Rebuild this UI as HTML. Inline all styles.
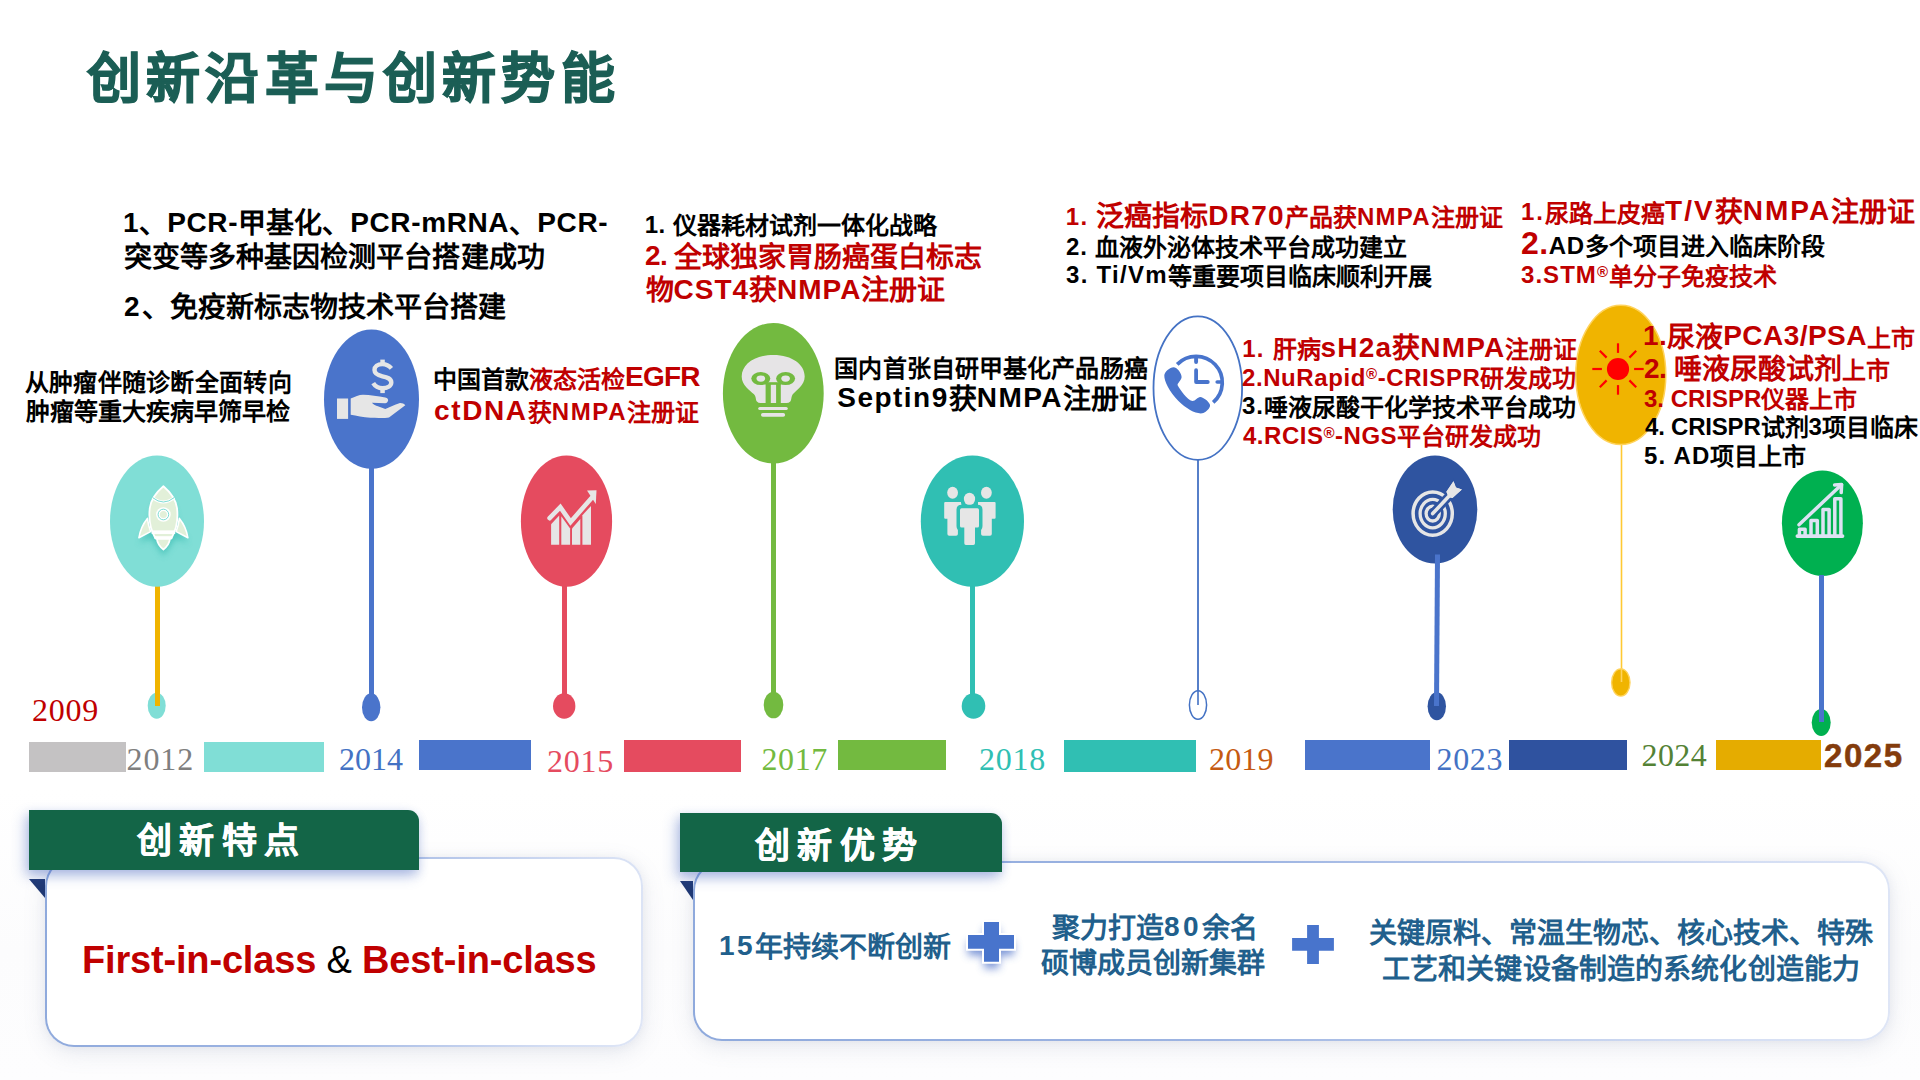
<!DOCTYPE html>
<html lang="zh-CN">
<head>
<meta charset="utf-8">
<title>创新沿革与创新势能</title>
<style>
html,body{margin:0;padding:0;}
body{width:1920px;height:1080px;position:relative;overflow:hidden;background:#fff;font-family:"Liberation Sans",sans-serif;}
#bg{position:absolute;left:0;top:0;width:1920px;height:1080px;background:linear-gradient(180deg,#ffffff 0%,#ffffff 73%,#fcfcfd 88%,#fdfdfe 100%);}
svg#shapes{position:absolute;left:0;top:0;width:1920px;height:1080px;}
.t{position:absolute;white-space:nowrap;font-family:"Liberation Sans",sans-serif;font-weight:bold;line-height:1;color:#000;margin:0;}
.r{color:#c00000;}
.yr{position:absolute;white-space:nowrap;font-family:"Liberation Serif",serif;font-weight:normal;line-height:1;}
.s24{font-size:24px;}
.s28{font-size:28px;}

.card{position:absolute;box-sizing:border-box;background:#fff;border-radius:29px;border:2px solid transparent;
 background:linear-gradient(#fff,#fff) padding-box,linear-gradient(100deg,#8ea9dc 0%,#9db4e2 45%,#d3ddf3 85%,#dfe6f6 100%) border-box;
 box-shadow:0 6px 22px rgba(120,130,160,0.16),0 0 10px rgba(120,130,160,0.08);}
.hdr{position:absolute;box-sizing:border-box;background:#136547;border-top-right-radius:11px;
 box-shadow:-4px 6px 14px rgba(68,100,190,0.32),0 4px 10px rgba(68,100,190,0.22);color:#fff;font-weight:bold;text-align:center;}
.hdr span{position:absolute;font-size:35px;line-height:1;letter-spacing:7.6px;white-space:nowrap;text-align:left;-webkit-text-stroke:0.5px #fff;}
.tri{position:absolute;width:0;height:0;border-style:solid;}
.blue{color:#215f8c;}

</style>
</head>
<body>
<div id="bg"></div>
<svg id="shapes" viewBox="0 0 1920 1080">
<defs>
<filter id="soft" x="-50%" y="-50%" width="200%" height="200%"><feGaussianBlur stdDeviation="3"/></filter>
</defs>
<!-- stems -->
<rect x="155" y="580" width="5" height="126" fill="#f0b400"/>
<rect x="369" y="462" width="5" height="240" fill="#4a74cb"/>
<rect x="562" y="580" width="5" height="120" fill="#e54b5f"/>
<rect x="771" y="458" width="5" height="240" fill="#73ba40"/>
<rect x="970" y="580" width="5" height="120" fill="#30bfb3"/>
<rect x="1197.1" y="455" width="1.8" height="250" fill="#4472c4"/>
<rect x="1620.7" y="440" width="1.6" height="240" fill="#ffc933"/>
<!-- timeline dots -->
<ellipse cx="156.7" cy="705.7" rx="9" ry="13" fill="#80ded6"/>
<rect x="155" y="690" width="5" height="16" fill="#f0b400"/>
<ellipse cx="371.2" cy="707.3" rx="9.2" ry="14" fill="#4a74cb"/>
<ellipse cx="564.2" cy="706" rx="11.2" ry="12.8" fill="#e54b5f"/>
<ellipse cx="773.5" cy="705" rx="9.8" ry="13.3" fill="#73ba40"/>
<ellipse cx="973.5" cy="706" rx="11.8" ry="12.7" fill="#30bfb3"/>
<ellipse cx="1198" cy="705" rx="8.6" ry="14.3" fill="#fff" stroke="#4472c4" stroke-width="1.5"/>
<rect x="1197.2" y="690" width="1.6" height="15" fill="#4472c4"/>
<ellipse cx="1436.8" cy="706.3" rx="9.2" ry="14" fill="#2f54a0"/>
<ellipse cx="1620.8" cy="682.5" rx="9.2" ry="13.6" fill="#f0b400" stroke="#ffd35c" stroke-width="1.4"/>
<rect x="1620.7" y="668" width="1.6" height="14" fill="#ffd35c"/>
<ellipse cx="1821.2" cy="722.5" rx="9.5" ry="13.5" fill="#00b050"/>
<!-- balloons -->
<ellipse cx="157" cy="521.2" rx="47" ry="65.6" fill="#80ded6"/>
<ellipse cx="371.5" cy="399.2" rx="47.5" ry="69.6" fill="#4a74cb"/>
<ellipse cx="566.5" cy="521.2" rx="45.6" ry="65.6" fill="#e54b5f"/>
<ellipse cx="773.3" cy="393.2" rx="50.4" ry="70.3" fill="#73ba40"/>
<ellipse cx="972.4" cy="521.2" rx="51.6" ry="65.6" fill="#30bfb3"/>
<ellipse cx="1197.8" cy="388.1" rx="44.3" ry="71.8" fill="#fff" stroke="#4472c4" stroke-width="1.8"/>
<ellipse cx="1435" cy="509.5" rx="42.3" ry="54" fill="#2f54a0"/>
<ellipse cx="1620.8" cy="374.9" rx="45" ry="69.6" fill="#f0b400" stroke="#ffd35c" stroke-width="1.5"/>
<ellipse cx="1822.4" cy="523.3" rx="40.5" ry="52.7" fill="#00b050"/>
<!-- stems on top -->
<polygon points="1435,554.6 1440,554.6 1439,706 1434,706" fill="#4a74cb"/>
<rect x="1819" y="575" width="5" height="147" fill="#4a74cb"/>
<!-- timeline bars -->
<rect x="29" y="742" width="97" height="30" fill="#c4c2c3"/>
<rect x="204" y="742" width="120" height="30" fill="#80ded6"/>
<rect x="419" y="740" width="112" height="30" fill="#4a74cb"/>
<rect x="624" y="740" width="117" height="32" fill="#e54b5f"/>
<rect x="838" y="740" width="108" height="30" fill="#73ba40"/>
<rect x="1064" y="740" width="132" height="32" fill="#30bfb3"/>
<rect x="1305" y="740" width="125" height="30" fill="#4a74cb"/>
<rect x="1509" y="740" width="118" height="30" fill="#2f529f"/>
<rect x="1716" y="740" width="105" height="30" fill="#e5ac00"/>

<!-- rocket -->
<g>
<g filter="url(#soft)" opacity="0.75" transform="translate(0,5)"><path d="M163.4,489 C154,498 150,510 150,520 L139,538 L151,533 L156,540 L163.4,551 L171,540 L176,533 L188,538 L177,520 C177,510 173,498 163.4,489 Z" fill="#3fbfb5"/></g>
<path d="M147.4,518.4 Q140.5,527 138.9,537.8 L150.6,531.6 Q148.2,525 147.4,518.4 Z" fill="#e2f0d9" stroke="#fff" stroke-width="1.6" stroke-linejoin="round"/>
<path d="M179.4,518.4 Q186.3,527 187.9,537.8 L176.2,531.6 Q178.6,525 179.4,518.4 Z" fill="#e2f0d9" stroke="#fff" stroke-width="1.6" stroke-linejoin="round"/>
<path d="M156.8,538.5 Q157.5,545 163.4,549.5 Q169.3,545 170,538.5 Z" fill="#e2f0d9" stroke="#fff" stroke-width="1.8" stroke-linejoin="round"/>
<path d="M163.4,486.2 C156,492.5 151,499 149.8,508 C148.6,518 150.5,530 155.5,538.5 L171.3,538.5 C176.3,530 178.2,518 177,508 C175.8,499 170.8,492.5 163.4,486.2 Z" fill="#e2f0d9" stroke="#fff" stroke-width="1.8" stroke-linejoin="round"/>
<path d="M152.6,497.6 Q163.4,506.4 174.2,497.6" fill="none" stroke="#fff" stroke-width="3"/>
<path d="M152.6,497.6 Q163.4,506.4 174.2,497.6" fill="none" stroke="#6fd8cf" stroke-width="0.9"/>
<circle cx="163.4" cy="514.5" r="7.3" fill="#fff"/>
<circle cx="163.4" cy="514.5" r="5.3" fill="none" stroke="#6fd8cf" stroke-width="0.9"/>
<circle cx="163.4" cy="514.5" r="3.5" fill="#e2f0d9"/>
<rect x="151.6" y="530.4" width="23.6" height="3.6" fill="#fff"/>
<rect x="154.6" y="536.2" width="17.6" height="2.6" fill="#fff"/>
</g>
<!-- hand + dollar -->
<g fill="#e6e6e6">
<rect x="337" y="398.5" width="11.1" height="20.4"/>
<path d="M350.7,398.5 C355,396.8 359,394.8 363,394.8 C370,395 378,396.4 385.3,397.4 C387.6,397.9 388.4,399.4 388.1,400.6 C387.8,402.2 386.6,403.2 385.3,403.3 L371.9,402.8 C373.5,404.6 375.8,405.6 377.9,406.3 L385.3,408.9 C390,407 394.5,404.6 399.3,403.2 C401.5,402.8 404,403.8 405.3,405.2 L389,417.4 C386.5,418 378,418 370.4,417.8 C363,417.2 356.5,415.8 350.7,414.8 Z"/>
<rect x="380.3" y="359.6" width="4.5" height="4.2"/>
<rect x="380.3" y="389" width="4.5" height="4.1"/>
</g>
<path d="M391.4,368.4 C389,365.6 386,364.1 382.4,364.1 C377.5,364.1 374.5,366.5 374.5,370 C374.5,374 378,375.3 382.4,376.3 C387,377.3 391.3,378.5 391.3,382.6 C391.3,386 387.5,388.2 382.4,388.2 C378.5,388.2 375.3,386.6 373.2,383.2" fill="none" stroke="#e6e6e6" stroke-width="4.4"/>
<!-- chart (red) -->
<g fill="#e6e6e6">
<polygon points="551.1,524.3 559.2,515.5 559.2,544.7 551.1,544.7"/>
<polygon points="561.3,516.2 570.1,528.6 570.1,544.7 561.3,544.7"/>
<polygon points="572,528.6 580.3,519 580.3,544.7 572,544.7"/>
<polygon points="582.4,515.2 591,505.9 591,544.7 582.4,544.7"/>
<polygon points="587,490.4 596.5,490.2 595.8,503.9"/>
</g>
<polyline points="549.6,518.2 560.3,507.1 570.6,521.9 591.8,497.7" fill="none" stroke="#e6e6e6" stroke-width="4.6" stroke-linecap="round" stroke-linejoin="miter"/>
<!-- bulb -->
<path d="M773.4,354.9 C792.3,354.9 804.7,364.5 804.7,376.4 C804.7,385.3 796,390.4 793,394.1 C790.8,397.1 791.8,399.8 790.3,401.4 Q788.8,402.9 786.3,402.9 L760.7,402.9 Q758.2,402.9 756.9,401.4 C755.2,399.8 756.7,397.1 753.7,394.1 C750,390.4 741.7,385.3 741.7,376.4 C741.7,364.5 754.5,354.9 773.4,354.9 Z" fill="#e6e4e6"/>
<g>
<ellipse cx="760.8" cy="378.6" rx="9.5" ry="6.5" fill="#73ba40"/><ellipse cx="760.8" cy="378.6" rx="4.3" ry="3.1" fill="#e6e4e6"/>
<ellipse cx="785.6" cy="378.6" rx="9.5" ry="6.5" fill="#73ba40"/><ellipse cx="785.6" cy="378.6" rx="4.3" ry="3.1" fill="#e6e4e6"/>
</g>
<rect x="765.6" y="382.2" width="15.2" height="2.6" fill="#73ba40"/>
<rect x="765.6" y="383" width="5.2" height="21" fill="#73ba40"/>
<rect x="776.1" y="383" width="4.7" height="21" fill="#73ba40"/>
<rect x="758.2" y="406.9" width="29.6" height="3.2" rx="1.6" fill="#e6e4e6"/>
<rect x="761" y="413" width="24.1" height="3.7" rx="1.8" fill="#e6e4e6"/>
<!-- people -->
<g fill="#e6e6e6">
<ellipse cx="952.6" cy="492.8" rx="5.4" ry="6"/>
<ellipse cx="986.4" cy="492.8" rx="5.4" ry="6"/>
<path d="M945.2,501.9 H961.4 V518.8 H957.9 V534 Q957.9,535.8 956.1,535.8 H949.2 Q947.4,535.8 947.4,534 V518.8 H945.2 Q944.2,518.8 944.2,517.8 V502.9 Q944.2,501.9 945.2,501.9 Z"/>
<path d="M978,501.9 H994.6 Q995.6,501.9 995.6,502.9 V517.8 Q995.6,518.8 994.6,518.8 H991.8 V534 Q991.8,535.8 990,535.8 H982.9 Q981.1,535.8 981.1,534 V518.8 H978 Z"/>
</g>
<g fill="#e6e6e6" stroke="#30bfb3" stroke-width="7" paint-order="stroke" stroke-linejoin="round">
<ellipse cx="969.5" cy="499" rx="5.6" ry="6.2"/>
<path d="M961.6,508.3 H977.4 Q979,508.3 979,509.9 V526 Q979,527.6 977.4,527.6 H975 V543.3 Q975,544.9 973.4,544.9 H965.9 Q964.3,544.9 964.3,543.3 V527.6 H961.6 Q960,527.6 960,526 V509.9 Q960,508.3 961.6,508.3 Z"/>
</g>
<!-- phone + clock -->
<g fill="none" stroke="#4874cc" stroke-linecap="round" stroke-linejoin="round">
<path d="M1177.2,364.4 A26.2,26.2 0 1 1 1213.2,402.4" stroke-width="3.7" stroke-linecap="butt"/>
<line x1="1196.1" y1="358.4" x2="1196.1" y2="362" stroke-width="3.9"/>
<line x1="1217.2" y1="382" x2="1221.6" y2="382" stroke-width="3.6"/>
<polyline points="1196.1,370.2 1196.1,382 1207.8,382" stroke-width="3.8"/>
</g>
<path d="M1173.4,367.3 C1177.5,367.5 1181.6,373.4 1181.6,377.1 C1181.6,380.1 1178.2,382.3 1177.5,384.9 C1180.4,390.4 1187.1,399.3 1192.3,401 C1195.3,401.2 1197.5,397.1 1200.2,397 C1203.4,397.1 1210.1,402.3 1210.1,405.6 C1210.1,408.2 1205.6,412.7 1203.4,413 C1197.5,414.9 1187.1,409.7 1178.2,400.8 C1169.3,391.9 1164.1,380.8 1164.3,375.6 C1164.3,371.9 1170.1,367.3 1173.4,367.3 Z" fill="#4874cc"/>
<!-- target -->
<g fill="none" stroke="#e6e6e6">
<ellipse cx="1432.7" cy="513.6" rx="19.6" ry="21.7" stroke-width="3.5"/>
<ellipse cx="1432.7" cy="513.6" rx="12.6" ry="14.2" stroke-width="3.3"/>
<ellipse cx="1432.7" cy="513.6" rx="6.6" ry="7.4" stroke-width="3.3"/>
</g>
<line x1="1432.7" y1="513.6" x2="1452" y2="493" stroke="#2f54a0" stroke-width="9" stroke-linecap="round"/>
<polygon points="1453.5,481.3 1455.9,487.6 1461.9,489.4 1452.4,498.1 1448.6,497.1 1446.4,491.8" fill="#e6e6e6" stroke="#2f54a0" stroke-width="2.4" paint-order="stroke"/>
<line x1="1432.7" y1="513.6" x2="1449.6" y2="495.6" stroke="#e6e6e6" stroke-width="3.6" stroke-linecap="round"/>
<polygon points="1453.5,481.3 1455.9,487.6 1461.9,489.4 1452.4,498.1 1448.6,497.1 1446.4,491.8" fill="#e6e6e6"/>
<!-- sun -->
<g stroke="#ff0000" stroke-width="2.2">
<circle cx="1618" cy="369" r="11.1" fill="#ff0000" stroke="none"/>
<line x1="1618" y1="343.3" x2="1618" y2="352.9"/><line x1="1618" y1="385.1" x2="1618" y2="394.7"/>
<line x1="1592.3" y1="369" x2="1601.9" y2="369"/><line x1="1634.1" y1="369" x2="1643.7" y2="369"/>
<line x1="1599.8" y1="350.8" x2="1606.6" y2="357.6"/><line x1="1629.4" y1="380.4" x2="1636.2" y2="387.2"/>
<line x1="1636.2" y1="350.8" x2="1629.4" y2="357.6"/><line x1="1606.6" y1="380.4" x2="1599.8" y2="387.2"/>
</g>
<!-- bars+arrow (green) -->
<g fill="none" stroke="#dde2f3" stroke-width="3.5" stroke-linecap="round" stroke-linejoin="round">
<line x1="1797.4" y1="536.1" x2="1842.5" y2="536.1" stroke-width="3.8"/>
<path d="M1799.4,535 V529.3 H1805.1 V535"/>
<path d="M1811,535 V520.5 H1817.3 V535"/>
<path d="M1823,535 V509.6 H1829.1 V535"/>
<path d="M1834.8,535 V498.7 H1840.9 V535"/>
<line x1="1799" y1="524.7" x2="1841.4" y2="484.8"/>
<polyline points="1834.6,484.9 1841.6,484.6 1841.2,492.6"/>
</g>
</svg>

<div class="card" style="left:45px;top:857px;width:598px;height:190px;"></div>
<div class="tri" style="left:29px;top:879px;border-width:0 16.5px 19.5px 0;border-color:transparent #1f3873 transparent transparent;"></div>
<div class="hdr" style="left:29px;top:810px;width:390px;height:60px;"><span style="left:107.5px;top:13px;">创新特点</span></div>
<div class="card" style="left:693px;top:861px;width:1197px;height:180px;"></div>
<div class="tri" style="left:680px;top:881px;border-width:0 13px 19.5px 0;border-color:transparent #1f3873 transparent transparent;"></div>
<div class="hdr" style="left:680px;top:813px;width:322px;height:59px;"><span style="left:74.5px;top:14.5px;">创新优势</span></div>
<svg id="shapes2" viewBox="0 0 1920 1080" style="position:absolute;left:0;top:0;width:1920px;height:1080px;">
<defs><filter id="soft2" x="-50%" y="-50%" width="200%" height="200%"><feGaussianBlur stdDeviation="4.2"/></filter></defs>
<!-- plus signs -->
<g>
<path d="M984,922 H999 V935 H1014 V948.8 H999 V961.8 H984 V948.8 H968 V935 H984 Z" fill="#3f66c4" opacity="0.7" filter="url(#soft2)" transform="translate(0,6.5)"/>
<path d="M984,922 H999 V935 H1014 V948.8 H999 V961.8 H984 V948.8 H968 V935 H984 Z" fill="#4874cc" stroke="#fff" stroke-width="4" paint-order="stroke"/>
<path d="M1307.1,925 H1318.9 V938.1 H1333.9 V950.8 H1318.9 V963.9 H1307.1 V950.8 H1292.1 V938.1 H1307.1 Z" fill="#4874cc"/>
</g>
</svg>
<!-- TEXT-BEGIN -->
<div class="t" id="ttl" style="left:87.0px;top:52.2px;font-size:54px;letter-spacing:5.20px;-webkit-text-stroke:1.2px #1b5e55;"><span style="font-size:54px;color:#1b5e55;">创新沿革与创新势能</span></div>
<div class="t" id="a1" style="left:123.0px;top:210.0px;font-size:28px;"><span style="font-size:28px;color:#000;"><span style="letter-spacing:0.63px;position:relative;top:-0.05em;">1</span>、<span style="letter-spacing:0.63px;position:relative;top:-0.05em;">PCR-</span>甲基化、<span style="letter-spacing:0.63px;position:relative;top:-0.05em;">PCR-mRNA</span>、<span style="letter-spacing:0.63px;position:relative;top:-0.05em;">PCR-</span></span></div>
<div class="t" id="a2" style="left:123.7px;top:244.0px;font-size:28px;letter-spacing:0.07px;"><span style="font-size:28px;color:#000;">突变等多种基因检测平台搭建成功</span></div>
<div class="t" id="a3" style="left:124.0px;top:294.2px;font-size:28px;"><span style="font-size:28px;color:#000;"><span style="letter-spacing:2.00px;position:relative;top:-0.05em;">2</span>、免疫新标志物技术平台搭建</span></div>
<div class="t" id="b1" style="left:24.8px;top:371.1px;font-size:24px;letter-spacing:0.28px;"><span style="font-size:24px;color:#000;">从肿瘤伴随诊断全面转向</span></div>
<div class="t" id="b2" style="left:25.8px;top:399.6px;font-size:24px;letter-spacing:-0.02px;"><span style="font-size:24px;color:#000;">肿瘤等重大疾病早筛早检</span></div>
<div class="t" id="c1" style="left:433.0px;top:364.5px;font-size:28px;"><span style="font-size:24px;color:#000;">中国首款</span><span style="font-size:24px;color:#c00000;">液态活检</span><span style="font-size:28px;color:#c00000;"><span style="letter-spacing:-0.79px;position:relative;top:-0.05em;">EGFR</span></span></div>
<div class="t" id="c2" style="left:434.0px;top:398.3px;font-size:28px;"><span style="font-size:28px;color:#c00000;"><span style="letter-spacing:1.63px;position:relative;top:-0.05em;">ctDNA</span></span><span style="font-size:24px;color:#c00000;">获<span style="letter-spacing:1.63px;position:relative;top:-0.05em;">NMPA</span>注册证</span></div>
<div class="t" id="d1" style="left:644.7px;top:214.0px;font-size:24px;"><span style="font-size:24px;color:#000;"><span style="letter-spacing:0.57px;position:relative;top:-0.05em;">1. </span>仪器耗材试剂一体化战略</span></div>
<div class="t" id="d2" style="left:645.0px;top:243.5px;font-size:28px;"><span style="font-size:28px;color:#c00000;"><span style="letter-spacing:-0.67px;position:relative;top:-0.05em;">2. </span>全球独家胃肠癌蛋白标志</span></div>
<div class="t" id="d3" style="left:645.5px;top:277.0px;font-size:28px;"><span style="font-size:28px;color:#c00000;">物<span style="letter-spacing:1.00px;position:relative;top:-0.05em;">CST4</span>获<span style="letter-spacing:1.00px;position:relative;top:-0.05em;">NMPA</span>注册证</span></div>
<div class="t" id="e1" style="left:834.3px;top:356.8px;font-size:24px;letter-spacing:0.12px;"><span style="font-size:24px;color:#000;">国内首张自研甲基化产品肠癌</span></div>
<div class="t" id="e2" style="left:837.3px;top:385.5px;font-size:28px;"><span style="font-size:28px;color:#000;"><span style="letter-spacing:1.47px;position:relative;top:-0.05em;">Septin9</span>获<span style="letter-spacing:1.47px;position:relative;top:-0.05em;">NMPA</span>注册证</span></div>
<div class="t" id="f1" style="left:1065.8px;top:203.1px;font-size:28px;"><span style="font-size:24px;color:#c00000;"><span style="letter-spacing:1.26px;position:relative;top:-0.05em;">1. </span></span><span style="font-size:28px;color:#c00000;">泛癌指标<span style="letter-spacing:1.26px;position:relative;top:-0.05em;">DR70</span></span><span style="font-size:24px;color:#c00000;">产品获<span style="letter-spacing:1.26px;position:relative;top:-0.05em;">NMPA</span>注册证</span></div>
<div class="t" id="f2" style="left:1066.0px;top:236.3px;font-size:24px;"><span style="font-size:24px;color:#000;"><span style="letter-spacing:0.91px;position:relative;top:-0.05em;">2. </span>血液外泌体技术平台成功建立</span></div>
<div class="t" id="f3" style="left:1066.0px;top:264.5px;font-size:24px;"><span style="font-size:24px;color:#000;"><span style="letter-spacing:1.29px;position:relative;top:-0.05em;">3. Ti/Vm</span>等重要项目临床顺利开展</span></div>
<div class="t" id="g1" style="left:1521.0px;top:198.6px;font-size:28px;"><span style="font-size:24px;color:#c00000;"><span style="letter-spacing:2.02px;position:relative;top:-0.05em;">1.</span>尿路上皮癌</span><span style="font-size:28px;color:#c00000;"><span style="letter-spacing:2.02px;position:relative;top:-0.05em;">T/V</span>获<span style="letter-spacing:2.02px;position:relative;top:-0.05em;">NMPA</span>注册证</span></div>
<div class="t" id="g2" style="left:1521.0px;top:228.2px;font-size:32px;"><span style="font-size:32px;color:#c00000;"><span style="letter-spacing:0.55px;position:relative;top:-0.05em;">2.</span></span><span style="font-size:24px;color:#000;"><span style="letter-spacing:0.55px;position:relative;top:-0.05em;">AD</span>多个项目进入临床阶段</span></div>
<div class="t" id="g3" style="left:1521.0px;top:264.5px;font-size:24px;"><span style="font-size:24px;color:#c00000;"><span style="letter-spacing:1.04px;position:relative;top:-0.05em;">3.STM</span></span><span style="font-size:15px;color:#c00000;position:relative;top:-0.5em;"><span style="letter-spacing:1.04px;">®</span></span><span style="font-size:24px;color:#c00000;">单分子免疫技术</span></div>
<div class="t" id="h1" style="left:1242.3px;top:334.9px;font-size:28px;"><span style="font-size:24px;color:#c00000;"><span style="letter-spacing:1.19px;position:relative;top:-0.05em;">1. </span>肝病</span><span style="font-size:28px;color:#c00000;"><span style="letter-spacing:1.19px;position:relative;top:-0.05em;">sH2a</span>获<span style="letter-spacing:1.19px;position:relative;top:-0.05em;">NMPA</span></span><span style="font-size:24px;color:#c00000;">注册证</span></div>
<div class="t" id="h2" style="left:1242.0px;top:366.8px;font-size:24px;"><span style="font-size:24px;color:#c00000;"><span style="letter-spacing:0.59px;position:relative;top:-0.05em;">2.NuRapid</span></span><span style="font-size:15px;color:#c00000;position:relative;top:-0.5em;"><span style="letter-spacing:0.59px;">®</span></span><span style="font-size:24px;color:#c00000;"><span style="letter-spacing:0.59px;position:relative;top:-0.05em;">-CRISPR</span>研发成功</span></div>
<div class="t" id="h3" style="left:1242.0px;top:395.5px;font-size:24px;"><span style="font-size:24px;color:#000;"><span style="letter-spacing:1.00px;position:relative;top:-0.05em;">3.</span>唾液尿酸干化学技术平台成功</span></div>
<div class="t" id="h4" style="left:1243.0px;top:425.0px;font-size:24px;"><span style="font-size:24px;color:#c00000;"><span style="letter-spacing:0.52px;position:relative;top:-0.05em;">4.RCIS</span></span><span style="font-size:15px;color:#c00000;position:relative;top:-0.5em;"><span style="letter-spacing:0.52px;">®</span></span><span style="font-size:24px;color:#c00000;"><span style="letter-spacing:0.52px;position:relative;top:-0.05em;">-NGS</span>平台研发成功</span></div>
<div class="t" id="i1" style="left:1643.0px;top:323.7px;font-size:28px;"><span style="font-size:28px;color:#c00000;"><span style="letter-spacing:0.44px;position:relative;top:-0.05em;">1.</span>尿液<span style="letter-spacing:0.44px;position:relative;top:-0.05em;">PCA3/PSA</span></span><span style="font-size:24px;color:#c00000;">上市</span></div>
<div class="t" id="i2" style="left:1644.0px;top:356.0px;font-size:28px;"><span style="font-size:28px;color:#c00000;"><span style="letter-spacing:-0.51px;position:relative;top:-0.05em;">2. </span>唾液尿酸试剂</span><span style="font-size:24px;color:#c00000;">上市</span></div>
<div class="t" id="i3" style="left:1644.0px;top:388.3px;font-size:24px;"><span style="font-size:24px;color:#c00000;"><span style="position:relative;top:-0.05em;">3. CRISPR</span>仪器上市</span></div>
<div class="t" id="i4" style="left:1645.0px;top:416.3px;font-size:24px;"><span style="font-size:24px;color:#000;"><span style="letter-spacing:-0.20px;position:relative;top:-0.05em;">4. CRISPR</span>试剂<span style="letter-spacing:-0.20px;position:relative;top:-0.05em;">3</span>项目临床</span></div>
<div class="t" id="i5" style="left:1644.0px;top:445.1px;font-size:24px;"><span style="font-size:24px;color:#000;"><span style="letter-spacing:1.20px;position:relative;top:-0.05em;">5. AD</span>项目上市</span></div>
<div class="t" id="k1" style="left:719.0px;top:933.8px;font-size:28px;"><span style="font-size:28px;color:#215f8c;"><span style="letter-spacing:2.50px;position:relative;top:-0.05em;">15</span>年持续不断创新</span></div>
<div class="t" id="k2" style="left:1052.1px;top:914.5px;font-size:28px;"><span style="font-size:28px;color:#215f8c;">聚力打造<span style="letter-spacing:3.40px;position:relative;top:-0.05em;">80</span>余名</span></div>
<div class="t" id="k3" style="left:1041.1px;top:949.7px;font-size:28px;"><span style="font-size:28px;color:#215f8c;">硕博成员创新集群</span></div>
<div class="t" id="k4" style="left:1368.7px;top:920.2px;font-size:28px;letter-spacing:0.04px;"><span style="font-size:28px;color:#215f8c;">关键原料、常温生物芯、核心技术、特殊</span></div>
<div class="t" id="k5" style="left:1382.0px;top:955.9px;font-size:28px;letter-spacing:0.12px;"><span style="font-size:28px;color:#215f8c;">工艺和关键设备制造的系统化创造能力</span></div>
<div class="t" id="y25" style="left:1824.0px;top:739.1px;font-size:33px;-webkit-text-stroke:0.5px #843c0c;"><span style="font-size:33px;color:#843c0c;"><span style="letter-spacing:1.54px;">2025</span></span></div>
<div class="t" id="fic" style="left:82.0px;top:941.0px;font-size:38px;"><span style="font-size:38px;color:#c00000;"><span style="letter-spacing:-0.17px;">First-in-class</span></span><span style="font-size:38px;color:#000;font-weight:normal;"><span style="letter-spacing:-0.17px;"> & </span></span><span style="font-size:38px;color:#c00000;"><span style="letter-spacing:-0.17px;">Best-in-class</span></span></div>
<div class="yr" id="yr09" style="left:32.0px;top:694.0px;font-size:32px;"><span style="font-size:32px;color:#c00000;"><span style="letter-spacing:0.75px;">2009</span></span></div>
<div class="yr" id="yr12" style="left:126.5px;top:743.2px;font-size:32px;"><span style="font-size:32px;color:#7f7f7f;"><span style="letter-spacing:0.93px;">2012</span></span></div>
<div class="yr" id="yr14" style="left:339.0px;top:743.2px;font-size:32px;"><span style="font-size:32px;color:#4472c4;">2014</span></div>
<div class="yr" id="yr15" style="left:547.0px;top:745.3px;font-size:32px;"><span style="font-size:32px;color:#e54b5f;"><span style="letter-spacing:0.75px;">2015</span></span></div>
<div class="yr" id="yr17" style="left:761.5px;top:743.2px;font-size:32px;"><span style="font-size:32px;color:#73ba40;"><span style="letter-spacing:0.57px;">2017</span></span></div>
<div class="yr" id="yr18" style="left:979.0px;top:743.2px;font-size:32px;"><span style="font-size:32px;color:#30bfb3;"><span style="letter-spacing:0.75px;">2018</span></span></div>
<div class="yr" id="yr19" style="left:1209.0px;top:743.2px;font-size:32px;"><span style="font-size:32px;color:#c55a11;"><span style="letter-spacing:0.18px;">2019</span></span></div>
<div class="yr" id="yr23" style="left:1436.5px;top:743.2px;font-size:32px;"><span style="font-size:32px;color:#4472c4;"><span style="letter-spacing:0.65px;">2023</span></span></div>
<div class="yr" id="yr24" style="left:1641.5px;top:738.5px;font-size:32px;"><span style="font-size:32px;color:#548235;"><span style="letter-spacing:0.40px;">2024</span></span></div>
<!-- TEXT-END -->
</body>
</html>
